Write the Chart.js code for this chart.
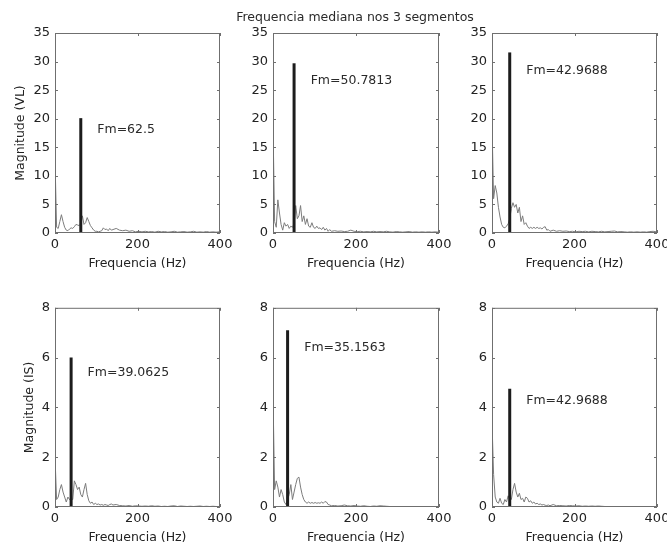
<!DOCTYPE html>
<html>
<head>
<meta charset="utf-8">
<script src="https://cdn.jsdelivr.net/npm/chart.js@4"></script>
<style>
  html, body { margin: 0; padding: 0; background: #fff; overflow: hidden; }
  body { width: 667px; height: 542px; position: relative; }
  canvas { position: absolute; }
</style>
</head>
<body>
<canvas id="p1"></canvas>
<canvas id="p2"></canvas>
<canvas id="p3"></canvas>
<canvas id="p4"></canvas>
<canvas id="p5"></canvas>
<canvas id="p6"></canvas>
<script>
// frequency bins (Hz)
const freqs = [
    0, 3.9, 7.8, 11.7, 15.6, 19.5, 23.4, 27.3, 31.3, 35.2,
    39.1, 43.0, 46.9, 50.8, 54.7, 58.6, 62.5, 66.4, 70.3, 74.2,
    78.1, 82.0, 85.9, 89.8, 93.8, 97.7, 101.6, 105.5, 109.4, 113.3,
    117.2, 121.1, 125.0, 128.9, 132.8, 136.7, 140.6,
    148.4, 156.3, 164.1, 171.9, 179.7, 187.5, 195.3, 203.1, 210.9, 218.8,
    226.6, 234.4, 242.2, 250.0, 257.8, 265.6, 273.4, 281.3, 289.1, 296.9,
    304.7, 312.5, 320.3, 328.1, 335.9, 343.8, 351.6, 359.4, 367.2, 375.0,
    382.8, 390.6, 398.4
];

// magnitude spectra, VL (top row)
const vl1 = [
    12.8, 1.0, 0.8, 2.0, 3.2, 2.0, 1.0, 0.5, 0.4, 0.7,
    0.9, 0.8, 1.1, 1.5, 1.4, 1.3, 1.6, 3.0, 1.5, 1.8,
    2.7, 2.0, 1.3, 0.9, 0.5, 0.3, 0.3, 0.2, 0.3, 0.4,
    0.9, 0.6, 0.7, 0.4, 0.8, 0.5, 0.6,
    0.8, 0.5, 0.4, 0.5, 0.3, 0.4, 0.2, 0.3, 0.2, 0.3,
    0.2, 0.25, 0.15, 0.3, 0.2, 0.25, 0.15, 0.2, 0.3, 0.15,
    0.2, 0.25, 0.15, 0.2, 0.3, 0.15, 0.2, 0.15, 0.25, 0.15,
    0.2, 0.15, 0.2
];
const vl2 = [
    18.8, 2.0, 1.0, 5.8, 3.5, 1.5, 0.5, 1.8, 1.2, 1.5,
    0.8, 1.2, 1.0, 1.6, 4.8, 2.5, 3.0, 4.8, 2.0, 3.0,
    1.5, 2.5, 1.2, 1.0, 1.8, 1.0, 0.8, 1.2, 0.8, 0.9,
    0.6, 1.0, 0.5, 0.8, 0.3, 0.6, 0.3,
    0.4, 0.3, 0.35, 0.25, 0.3, 0.5, 0.3, 0.25, 0.3, 0.2,
    0.25, 0.2, 0.3, 0.2, 0.25, 0.2, 0.3, 0.2, 0.15, 0.25,
    0.2, 0.15, 0.2, 0.25, 0.15, 0.2, 0.15, 0.2, 0.15, 0.2,
    0.15, 0.2, 0.15
];
const vl3 = [
    19.2, 6.0, 8.3, 7.0, 4.5, 2.8, 1.5, 1.0, 0.9, 1.2,
    1.6, 2.5, 4.3, 5.3, 4.5, 5.0, 3.5, 4.5, 2.0, 3.0,
    1.5, 1.8, 1.2, 0.8, 1.0, 0.8, 1.0, 0.8, 1.0, 0.8,
    0.9, 0.7, 1.0, 1.1, 0.5, 0.6, 0.3,
    0.5, 0.3, 0.4, 0.3, 0.35, 0.25, 0.3, 0.2, 0.3, 0.25,
    0.3, 0.2, 0.3, 0.25, 0.2, 0.3, 0.2, 0.25, 0.3, 0.35,
    0.2, 0.25, 0.2, 0.15, 0.2, 0.15, 0.2, 0.15, 0.2, 0.15,
    0.25, 0.3, 0.2
];

// magnitude spectra, IS (bottom row)
const is1 = [
    2.0, 0.3, 0.4, 0.7, 0.9, 0.6, 0.4, 0.2, 0.4, 0.3,
    0.35, 0.3, 1.05, 0.9, 0.7, 0.8, 0.5, 0.4, 0.7, 0.95,
    0.5, 0.25, 0.15, 0.2, 0.1, 0.15, 0.1, 0.12, 0.08, 0.1,
    0.07, 0.1, 0.08, 0.06, 0.1, 0.12, 0.08,
    0.1, 0.06, 0.05, 0.04, 0.06, 0.03, 0.05, 0.04, 0.03, 0.04,
    0.03, 0.05, 0.03, 0.04, 0.02, 0.03, 0.02, 0.04, 0.05, 0.02,
    0.04, 0.03, 0.02, 0.03, 0.02, 0.03, 0.04, 0.02, 0.03, 0.02,
    0.03, 0.02, 0.02
];
const is2 = [
    4.5, 0.7, 1.05, 0.8, 0.4, 0.7, 0.5, 0.2, 0.1, 0.3,
    0.5, 0.9, 0.3, 0.6, 0.9, 1.15, 1.2, 0.8, 0.5, 0.3,
    0.2, 0.15, 0.2, 0.15, 0.18, 0.15, 0.18, 0.15, 0.17, 0.15,
    0.2, 0.15, 0.22, 0.2, 0.1, 0.08, 0.05,
    0.06, 0.04, 0.05, 0.08, 0.05, 0.04, 0.06, 0.04, 0.03, 0.05,
    0.03, 0.02, 0.04, 0.03, 0.05, 0.04, 0.03, 0.02, 0.02, 0.01,
    0.02, 0.01, 0.02, 0.01, 0.02, 0.01, 0.02, 0.01, 0.02, 0.01,
    0.02, 0.01, 0.01
];
const is3 = [
    3.4, 1.3, 0.4, 0.2, 0.15, 0.35, 0.15, 0.1, 0.3, 0.2,
    0.45, 0.3, 0.3, 0.7, 0.95, 0.6, 0.4, 0.55, 0.3, 0.35,
    0.2, 0.4, 0.35, 0.2, 0.25, 0.15, 0.2, 0.12, 0.15, 0.1,
    0.12, 0.08, 0.1, 0.07, 0.06, 0.08, 0.05,
    0.1, 0.05, 0.06, 0.05, 0.04, 0.06, 0.05, 0.04, 0.05, 0.03,
    0.04, 0.03, 0.04, 0.03, 0.04, 0.03, 0.02, 0.01, 0.01, 0.01,
    0.01, 0.01, 0.01, 0.01, 0.01, 0.01, 0.01, 0.01, 0.01, 0.01,
    0.01, 0.01, 0.01
];

// median frequency markers
const fmValues = [62.5, 50.7813, 42.9688, 39.0625, 35.1563, 42.9688];
const fmPeaks = [20.1, 29.7, 31.6, 6.0, 7.1, 4.75];

const xTicks = [0, 200, 400];
const yMaxVL = 35, yStepVL = 5;
const yMaxIS = 8, yStepIS = 2;

const mainTitle = 'Frequencia mediana nos 3 segmentos';
const xTitle = 'Frequencia (Hz)';
const yTitles = ['Magnitude (VL)', 'Magnitude (IS)'];

const FONT = '"DejaVu Sans", sans-serif';
const FSIZE = 12.5;
const TICKSIZE = 13;

// box, inward ticks, Fm label, figure title
const matlabBox = {
    id: 'matlabBox',
    afterDatasetsDraw(chart, args, opts) {
        const { ctx, chartArea: a, scales: { x, y } } = chart;
        ctx.save();
        ctx.strokeStyle = '#6f6f6f';
        ctx.lineWidth = 1;
        ctx.strokeRect(a.left + 0.5, a.top + 0.5, a.width - 1, a.height - 1);
        ctx.beginPath();
        x.ticks.forEach(t => {
            const px = Math.round(x.getPixelForValue(t.value)) + 0.5;
            ctx.moveTo(px, a.bottom); ctx.lineTo(px, a.bottom - 3);
            ctx.moveTo(px, a.top); ctx.lineTo(px, a.top + 3);
        });
        y.ticks.forEach(t => {
            const py = Math.round(y.getPixelForValue(t.value)) + 0.5;
            ctx.moveTo(a.left, py); ctx.lineTo(a.left + 3, py);
            ctx.moveTo(a.right, py); ctx.lineTo(a.right - 3, py);
        });
        ctx.stroke();

        ctx.fillStyle = '#2a2a2a';
        ctx.font = FSIZE + 'px ' + FONT;
        ctx.textBaseline = 'middle';
        ctx.textAlign = 'left';
        ctx.fillText('Fm=' + opts.fm, x.getPixelForValue(opts.fm + 40), y.getPixelForValue(0.9 * opts.peak));

        if (opts.title) {
            ctx.textAlign = 'center';
            ctx.fillText(opts.title, opts.titleX, opts.titleY);
        }
        ctx.restore();
    }
};

const panels = [
    { id: 'p1', data: vl1, row: 0, col: 0 },
    { id: 'p2', data: vl2, row: 0, col: 1 },
    { id: 'p3', data: vl3, row: 0, col: 2 },
    { id: 'p4', data: is1, row: 1, col: 0 },
    { id: 'p5', data: is2, row: 1, col: 1 },
    { id: 'p6', data: is3, row: 1, col: 2 }
];

const boxLeft = [55, 273, 492], boxRight = [220, 439, 657];
const boxTop = [33, 307], boxBottom = [233, 507];
const padRight = [25, 70, 25];
const yAxisW = 55, xAxisH = 40, padTop = 12;

panels.forEach((p, i) => {
    const canvas = document.getElementById(p.id);
    const top = p.row === 0 ? 0 : boxTop[1] - padTop;
    const pTop = boxTop[p.row] - top;
    const left = boxLeft[p.col] - yAxisW;
    const pr = padRight[p.col];
    const w = boxRight[p.col] + pr - left;
    const h = boxBottom[p.row] + xAxisH - top;
    canvas.width = w; canvas.height = h;
    canvas.style.left = left + 'px'; canvas.style.top = top + 'px';

    const fm = fmValues[i], peak = fmPeaks[i];
    const yMax = p.row === 0 ? yMaxVL : yMaxIS;
    const yStep = p.row === 0 ? yStepVL : yStepIS;

    new Chart(canvas, {
        type: 'line',
        data: {
            datasets: [{
                data: [{ x: fm, y: 0 }, { x: fm, y: peak }],
                borderColor: '#1c1c1c',
                borderWidth: 3,
                pointRadius: 0
            }, {
                data: freqs.map((f, k) => ({ x: f, y: p.data[k] })),
                borderColor: '#7c7c7c',
                borderWidth: 1,
                pointRadius: 0,
                tension: 0
            }]
        },
        options: {
            responsive: false,
            animation: false,
            devicePixelRatio: 1,
            layout: { padding: { top: pTop, right: pr, left: 0, bottom: 0 } },
            plugins: {
                legend: { display: false },
                tooltip: { enabled: false },
                matlabBox: {
                    fm: fm, peak: peak,
                    title: p.row === 0 && p.col === 1 ? mainTitle : null,
                    titleX: 355 - left, titleY: 18
                }
            },
            scales: {
                x: {
                    type: 'linear', min: 0, max: 400,
                    afterBuildTicks: s => { s.ticks = xTicks.map(v => ({ value: v })); },
                    afterFit: s => { s.height = xAxisH; },
                    grid: { display: false, drawTicks: false },
                    border: { display: false },
                    ticks: { padding: 4, color: '#222', font: { family: FONT, size: TICKSIZE } },
                    title: {
                        display: true, text: xTitle, color: '#222',
                        font: { family: FONT, size: FSIZE }, padding: { top: 0, bottom: 2 }
                    }
                },
                y: {
                    min: 0, max: yMax,
                    afterFit: s => { s.width = yAxisW; },
                    grid: { display: false, drawTicks: false },
                    border: { display: false },
                    ticks: { stepSize: yStep, padding: 5, color: '#222', font: { family: FONT, size: TICKSIZE } },
                    title: {
                        display: p.col === 0, text: yTitles[p.row], color: '#222',
                        font: { family: FONT, size: FSIZE },
                        padding: { top: p.row === 0 ? 13 : 22, bottom: 0 }
                    }
                }
            }
        },
        plugins: [matlabBox]
    });
});
</script>
</body>
</html>
